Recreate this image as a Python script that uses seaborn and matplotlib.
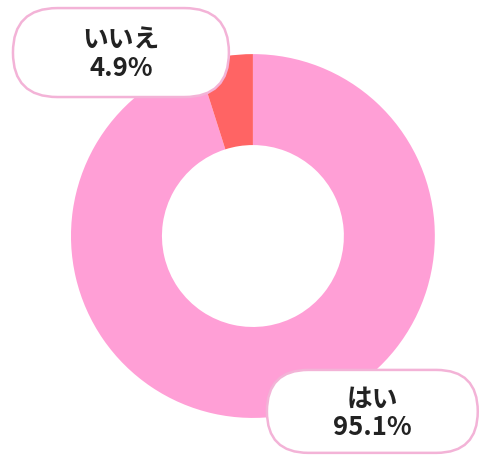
import seaborn as sns
import matplotlib.pyplot as plt
from matplotlib.patches import FancyBboxPatch

# data
answers = ["はい", "いいえ"]
shares = [95.1, 4.9]
colors = ["#FF9FD6", "#FF6464"]

sns.set_theme(style="white")
plt.rcParams['font.family'] = ['Noto Sans CJK JP', 'DejaVu Sans']

fig = plt.figure(figsize=(4.8, 4.57), dpi=100)
ax = fig.add_axes([0.1479, 0.0853, 0.758, 0.7965])

ax.pie(shares, colors=colors, startangle=90, counterclock=False,
       radius=1, wedgeprops=dict(width=0.5, linewidth=0))
ax.set_xlim(-1, 1)
ax.set_ylim(-1, 1)
ax.set_aspect("equal")
ax.axis("off")

# label boxes (x0, y0, x1, y1 in data units)
boxes = {"はい": (0.077, -1.192, 1.236, -0.736),
         "いいえ": (-1.319, 0.764, -0.132, 1.253)}

for name, val in zip(answers, shares):
    x0, y0, x1, y1 = boxes[name]
    h = y1 - y0
    patch = FancyBboxPatch((x0, y0), x1 - x0, h,
                           boxstyle=f"round,pad=0,rounding_size={h / 2:.3f}",
                           facecolor="white", edgecolor="#F3B3D7",
                           linewidth=1.8, clip_on=False, zorder=5)
    ax.add_patch(patch)
    ax.text((x0 + x1) / 2, (y0 + y1) / 2 - 0.01, f"{name}\n{val}%",
            ha="center", va="center", fontsize=18.5, fontweight="bold",
            color="#222222", linespacing=1.05, zorder=6, clip_on=False)

fig.savefig("out.png", dpi=100)
